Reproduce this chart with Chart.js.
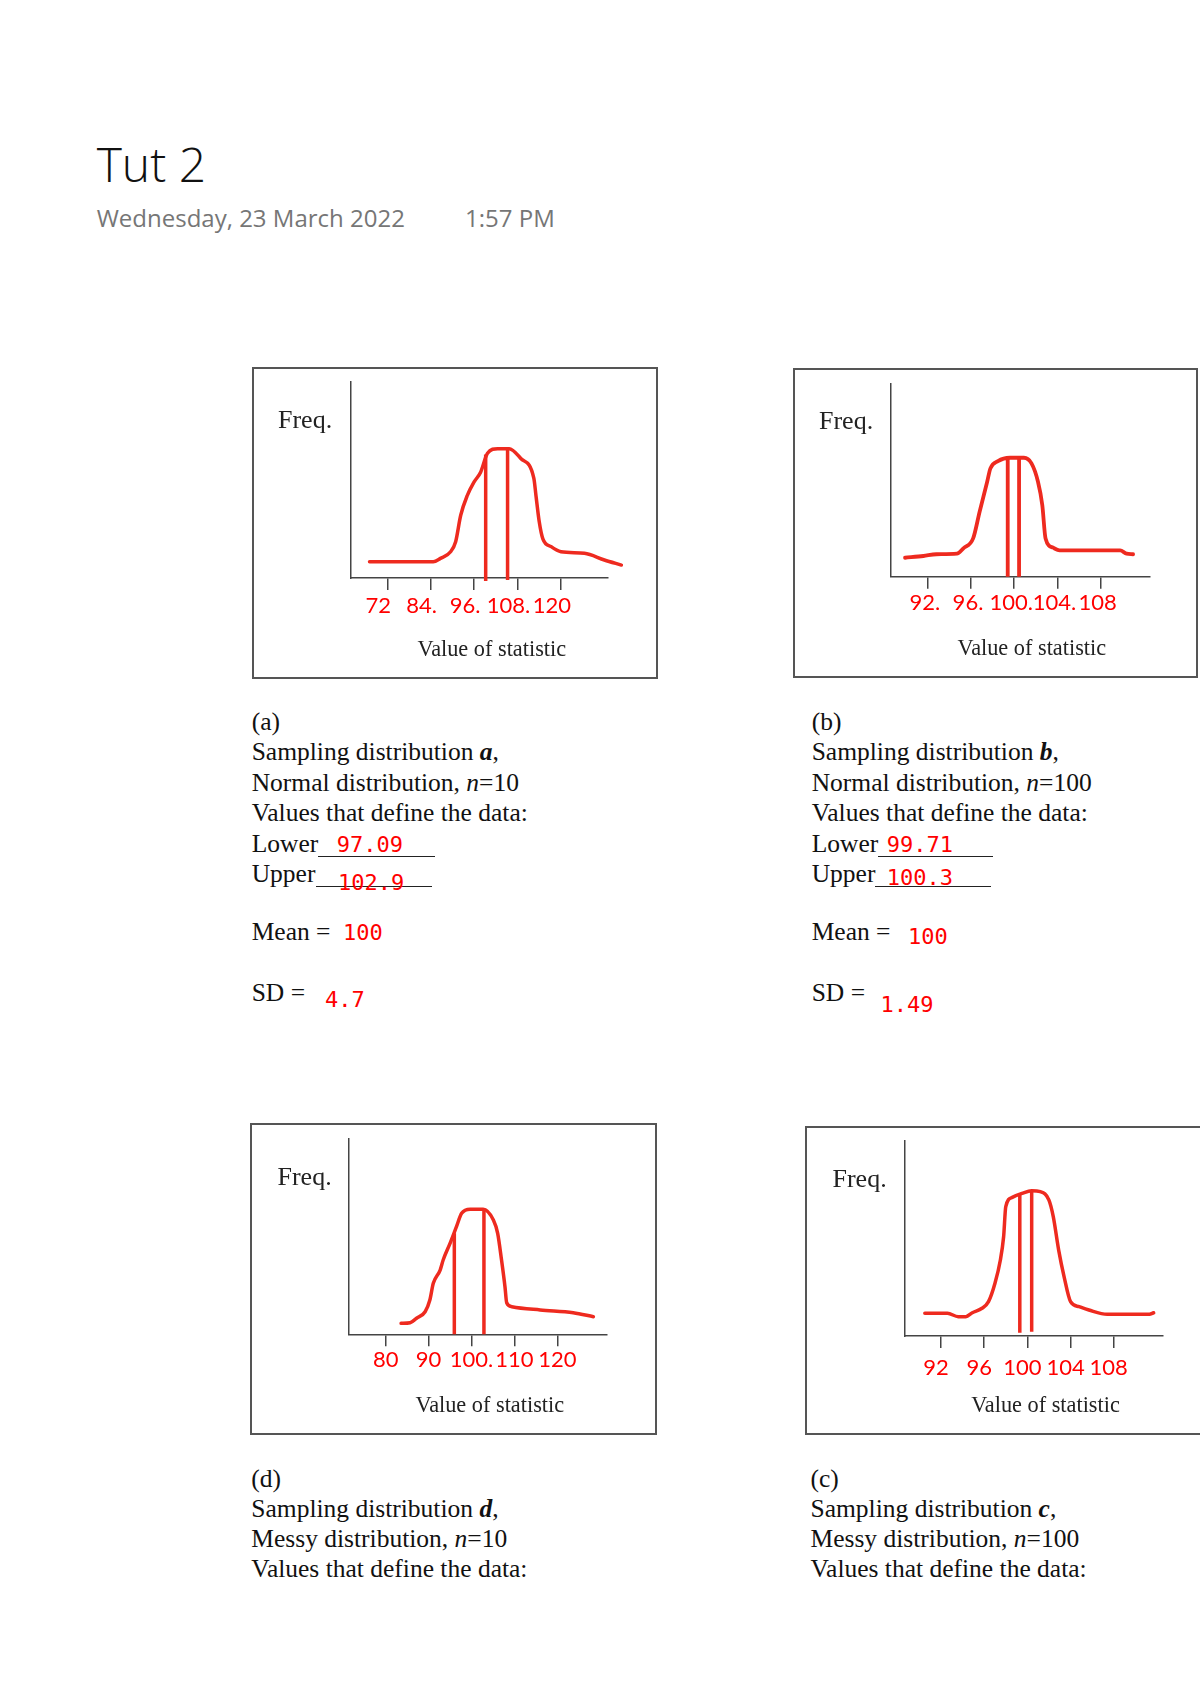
<!DOCTYPE html>
<html>
<head>
<meta charset="utf-8">
<script src="https://cdn.jsdelivr.net/npm/chart.js@4"></script>
<style>
  html, body { margin:0; padding:0; background:#fff; }
  body { position:relative; width:1200px; height:1698px; overflow:hidden; }
  .box { position:absolute; border:2px solid #555; box-sizing:border-box; }
  canvas.panel { position:absolute; }
  .t { position:absolute; white-space:nowrap; }
  .serif { font-family:"Liberation Serif","Times New Roman",serif; font-size:25.5px; color:#111; }
  .ax { font-family:"Liberation Serif","Times New Roman",serif; font-size:22.3px; color:#222; }
  .fq { font-family:"Liberation Serif","Times New Roman",serif; font-size:26px; color:#222; }
  .mono { font-family:"DejaVu Sans Mono",monospace; font-size:22px; color:#ff0000; }
  .head { font-family:"Open Sans",sans-serif; font-weight:300; font-size:48px; color:#111; }
  .date { font-family:"Open Sans",sans-serif; font-size:24px; color:#767676; }
  .uline { position:absolute; height:0; border-top:1.3px solid #222; }
</style>
</head>
<body>
<script>
// ---------------- DATA ----------------
// (a) Sampling distribution a
const ticksA = [72, 84, 96, 108, 120];
const tickLabelsA = ['72', '84.', '96.', '108.', '120'];
const curveA_x = [67.1, 84.7, 86.7, 89.5, 90.9, 92.3, 94.1, 96.0, 97.8, 99.7, 102.5, 105.7, 108.9, 112.5, 113.1, 114.0, 115.0, 117.3, 120.0, 126.5, 132.0, 136.7];
const curveA_y = [8.3, 8.3, 10, 13.4, 18.5, 32, 42, 49, 54, 63.6, 66, 66, 61, 51, 42, 28.7, 20, 16, 13.4, 12.6, 9.2, 6.6];
const boundsA_x = [99.2, 105.25];
const boundsA_top = [63, 66];
const boundsA_bottom = [-1.5, -1];

// (b) Sampling distribution b
const ticksB = [92, 96, 100, 104, 108];
const tickLabelsB = ['92.', '96.', '100.', '104.', '108'];
const curveB_x = [89.9, 91.6, 92.8, 94.7, 95.3, 96.2, 96.8, 97.5, 97.8, 98.5, 99.6, 100.9, 101.6, 102.2, 102.6, 102.9, 103.6, 104.2, 109.8, 110.4, 111.0];
const curveB_y = [9.8, 10.7, 11.6, 11.9, 14.7, 19.8, 33.6, 49.1, 56, 59.8, 61.5, 61.5, 58.6, 49.1, 37, 19.8, 15, 13.6, 13.6, 11.9, 11.6];
const boundsB_x = [99.4, 100.45];
const boundsB_top = [61.3, 61.5];
const boundsB_bottom = [0, 0];

// (d) Sampling distribution d
const ticksD = [80, 90, 100, 110, 120];
const tickLabelsD = ['80', '90', '100.', '110', '120'];
const curveD_x = [83.6, 85.7, 87.2, 89.2, 90.3, 91.1, 92.7, 93.4, 95.0, 96.5, 97.7, 99.7, 102.7, 105.1, 106.1, 107.0, 107.8, 108.2, 109.4, 116.0, 123.7, 128.4];
const curveD_y = [5.6, 5.9, 8.2, 11.5, 17.5, 26, 32.8, 37.9, 46.4, 54.9, 61.7, 63.8, 63.8, 58.3, 51.5, 37.9, 24.3, 16.1, 14.1, 12.4, 11, 9];
const boundsD_x = [96.0, 102.9];
const boundsD_top = [51.5, 63.8];
const boundsD_bottom = [0, 0];

// (c) Sampling distribution c
const ticksC = [92, 96, 100, 104, 108];
const tickLabelsC = ['92', '96', '100', '104', '108'];
const curveC_x = [90.5, 92.6, 93.6, 94.3, 94.9, 95.8, 96.4, 97.0, 97.5, 97.8, 98.0, 98.6, 99.5, 100.4, 101.2, 102.0, 102.4, 102.9, 103.4, 104.0, 104.8, 105.7, 107.4, 111.3, 111.7];
const curveC_y = [11.6, 11.6, 9.9, 9.9, 11.9, 14.2, 17.6, 27, 38.9, 50.8, 66.2, 71, 73, 74.4, 73.9, 69.6, 61.1, 44, 30.4, 17.6, 15, 13.3, 11.1, 11.1, 11.9];
const boundsC_x = [99.3, 100.4];
const boundsC_top = [72.2, 73.9];
const boundsC_bottom = [1.7, 2.2];

// ---------------- LAYOUT ----------------
const RED = '#ee2a1f';
const panels = [
  { box:[252, 367, 406, 312], yAxisX:350.7, yTop:382,    xAxisY:578,    xEnd:608,    xMin:61.9, xMax:133,
    ticks:ticksA, labels:tickLabelsA, cx:curveA_x, cy:curveA_y, bx:boundsA_x, bt:boundsA_top, bb:boundsA_bottom, labelOffset:-9, pad:2.5, lw:3.5 },
  { box:[793, 368, 405, 310], yAxisX:891,   yTop:383.3,  xAxisY:576.7,  xEnd:1149.3, xMin:88.6, xMax:112.5,
    ticks:ticksB, labels:tickLabelsB, cx:curveB_x, cy:curveB_y, bx:boundsB_x, bt:boundsB_top, bb:boundsB_bottom, labelOffset:-3, pad:1, lw:3.8 },
  { box:[250, 1123, 407, 312], yAxisX:348.3, yTop:1138.3, xAxisY:1334.3, xEnd:606.7, xMin:71.3, xMax:131.5,
    ticks:ticksD, labels:tickLabelsD, cx:curveD_x, cy:curveD_y, bx:boundsD_x, bt:boundsD_top, bb:boundsD_bottom, labelOffset:0, pad:0, lw:3.5 },
  { box:[805, 1126, 420, 309], yAxisX:904.3, yTop:1140.7, xAxisY:1336,   xEnd:1162.3, xMin:88.6, xMax:112.5,
    ticks:ticksC, labels:tickLabelsC, cx:curveC_x, cy:curveC_y, bx:boundsC_x, bt:boundsC_top, bb:boundsC_bottom, labelOffset:-5, pad:7, lw:3.5 }
];
const XSCALE_H = 40;

function makePanel(p) {
  const [L, T, W, H] = p.box;
  const box = document.createElement('div');
  box.className = 'box';
  Object.assign(box.style, { left:L+'px', top:T+'px', width:W+'px', height:H+'px' });
  document.body.appendChild(box);

  const cv = document.createElement('canvas');
  cv.className = 'panel';
  cv.width = W; cv.height = H;
  Object.assign(cv.style, { left:L+'px', top:T+'px', width:W+'px', height:H+'px' });
  document.body.appendChild(cv);

  const datasets = [{
    data: p.cx.map((x, i) => ({ x, y: p.cy[i] })),
    showLine: true, borderColor: RED, borderWidth: p.lw, pointRadius: 0,
    cubicInterpolationMode: 'monotone', clip: false, borderCapStyle: 'round', borderJoinStyle: 'round'
  }];
  p.bx.forEach((x, i) => {
    datasets.push({
      data: [{ x, y: p.bt[i] }, { x, y: p.bb[i] }],
      showLine: true, borderColor: RED, borderWidth: p.lw, pointRadius: 0, clip: false
    });
  });

  new Chart(cv, {
    type: 'scatter',
    data: { datasets },
    options: {
      responsive: false, animation: false, events: [],
      layout: { padding: {
        left: p.yAxisX - L, top: p.yTop - T,
        right: L + W - p.xEnd, bottom: T + H - p.xAxisY - XSCALE_H } },
      plugins: { legend: { display: false }, tooltip: { enabled: false } },
      scales: {
        x: {
          type: 'linear', min: p.xMin, max: p.xMax,
          afterBuildTicks: s => { s.ticks = p.ticks.map(v => ({ value: v })); },
          afterFit: s => { s.height = XSCALE_H; s.paddingLeft = 0; s.paddingRight = 0; },
          ticks: { callback: (v, i) => p.labels[i], color: '#ff0000',
                   font: { family: 'Lato', size: 22 }, padding: p.pad,
                   maxRotation: 0, minRotation: 0, autoSkip: false, labelOffset: p.labelOffset },
          grid: { drawOnChartArea: false, drawTicks: true, tickLength: 12, color: '#444', lineWidth: 1.5 },
          border: { display: true, color: '#444', width: 1.5 }
        },
        y: {
          min: 0, max: 100,
          afterFit: s => { s.width = 0; },
          ticks: { display: false },
          grid: { display: false },
          border: { display: true, color: '#444', width: 1.5 }
        }
      }
    }
  });
}
panels.forEach(makePanel);

// ---------------- TEXT ----------------
function txt(x, baseline, html, cls, align) {
  const el = document.createElement('div');
  el.className = 't ' + cls;
  el.innerHTML = html;
  const m = document.createElement('span');
  m.style.cssText = 'display:inline-block;width:0;height:0;vertical-align:baseline';
  el.appendChild(m);
  el.style.left = '0px'; el.style.top = '0px';
  document.body.appendChild(el);
  const b = m.offsetTop;
  el.style.top = (baseline - b) + 'px';
  el.style.left = (align === 'center' ? x - el.offsetWidth / 2 : x) + 'px';
}
function uline(x1, x2, y) {
  const d = document.createElement('div');
  d.className = 'uline';
  Object.assign(d.style, { left:x1+'px', top:y+'px', width:(x2-x1)+'px' });
  document.body.appendChild(d);
}

txt(96.7, 181.5, 'Tut 2', 'head');
txt(96.7, 227, 'Wednesday, 23 March 2022', 'date');
txt(465, 227, '1:57 PM', 'date');

// chart captions
txt(278, 428.3, 'Freq.', 'fq');
txt(492, 655.7, 'Value of statistic', 'ax', 'center');
txt(819, 429, 'Freq.', 'fq');
txt(1032, 655, 'Value of statistic', 'ax', 'center');
txt(277.5, 1185, 'Freq.', 'fq');
txt(490, 1411.7, 'Value of statistic', 'ax', 'center');
txt(832.5, 1187.3, 'Freq.', 'fq');
txt(1045.7, 1412.3, 'Value of statistic', 'ax', 'center');

// (a) block
txt(251.7, 730, '(a)', 'serif');
txt(251.7, 760, 'Sampling distribution <b><i>a</i></b>,', 'serif');
txt(251.7, 790.5, 'Normal distribution, <i>n</i>=10', 'serif');
txt(251.7, 821, 'Values that define the data:', 'serif');
txt(251.7, 851.7, 'Lower', 'serif');
uline(318, 435, 855.5);
txt(251.7, 881.7, 'Upper', 'serif');
uline(316, 432, 886);
txt(251.7, 940, 'Mean =', 'serif');
txt(251.7, 1001, 'SD =', 'serif');
txt(336.7, 851.7, '97.09', 'mono');
txt(338, 890, '102.9', 'mono');
txt(343, 940, '100', 'mono');
txt(325, 1007, '4.7', 'mono');

// (b) block
txt(811.7, 730, '(b)', 'serif');
txt(811.7, 760, 'Sampling distribution <b><i>b</i></b>,', 'serif');
txt(811.7, 790.5, 'Normal distribution, <i>n</i>=100', 'serif');
txt(811.7, 821, 'Values that define the data:', 'serif');
txt(811.7, 851.7, 'Lower', 'serif');
uline(878, 993, 856);
txt(811.7, 881.7, 'Upper', 'serif');
uline(875, 990.7, 886);
txt(811.7, 940, 'Mean =', 'serif');
txt(811.7, 1001, 'SD =', 'serif');
txt(886.7, 852.3, '99.71', 'mono');
txt(886.7, 885, '100.3', 'mono');
txt(908, 944, '100', 'mono');
txt(880.5, 1012, '1.49', 'mono');

// (d) block
txt(251.3, 1487, '(d)', 'serif');
txt(251.3, 1516.5, 'Sampling distribution <b><i>d</i></b>,', 'serif');
txt(251.3, 1546.5, 'Messy distribution, <i>n</i>=10', 'serif');
txt(251.3, 1576.5, 'Values that define the data:', 'serif');

// (c) block
txt(810.5, 1487, '(c)', 'serif');
txt(810.5, 1516.5, 'Sampling distribution <b><i>c</i></b>,', 'serif');
txt(810.5, 1546.5, 'Messy distribution, <i>n</i>=100', 'serif');
txt(810.5, 1576.5, 'Values that define the data:', 'serif');
</script>
</body>
</html>
